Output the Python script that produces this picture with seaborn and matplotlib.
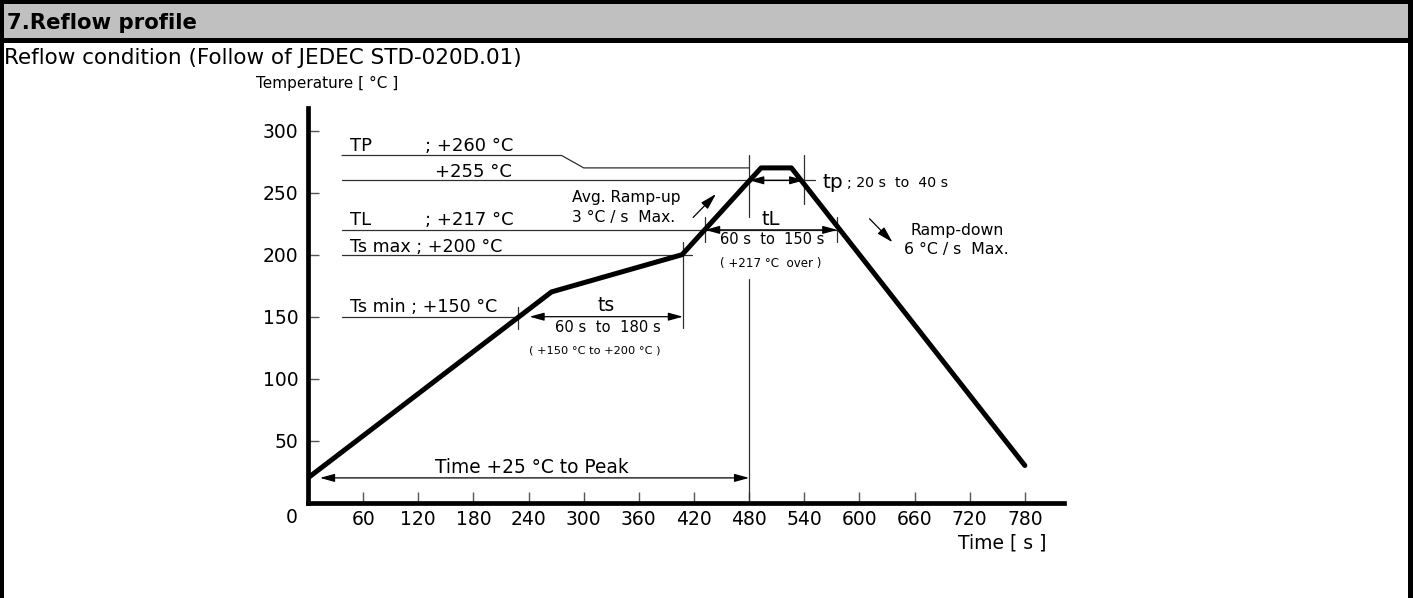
import numpy as np
import pandas as pd
import matplotlib
matplotlib.use("Agg")
import matplotlib.pyplot as plt
from matplotlib.patches import Rectangle
import seaborn as sns

# ---------------- data ----------------
profile_time = [0, 265, 407, 493, 526, 780]
profile_temp = [20, 170, 200, 270, 270, 30]

x_ticks = [60, 120, 180, 240, 300, 360, 420, 480, 540, 600, 660, 720, 780]
y_ticks = [50, 100, 150, 200, 250, 300]

# reference level lines
tp_line_time = [37, 276, 300, 480]
tp_line_temp = [280, 280, 270, 270]
lvl255 = (37, 552, 260)
lvl217 = (37, 576, 220)
lvl200 = (37, 418, 200)
lvl150 = (37, 229, 150)

# vertical markers (time, temp from, temp to)
verticals = [(229, 140, 158), (408, 141, 210), (432, 210, 230), (576, 210, 230),
             (480, 230, 280), (480, 0, 180), (540, 241, 280)]

# double arrows (time from, time to, temp)
spans = [(241, 408, 150), (432, 576, 220), (480, 540, 260), (13, 480, 20)]

# ramp arrows (time0, temp0, time1, temp1)
ramp_up = (419, 230, 444, 249)
ramp_down = (611, 229, 636, 210)

# ---------------- style ----------------
sns.set_theme(style="white")
plt.rcParams["font.family"] = ["DejaVu Sans"]
plt.rcParams["text.color"] = "black"
plt.rcParams["axes.labelcolor"] = "black"
plt.rcParams["xtick.color"] = "black"
plt.rcParams["ytick.color"] = "black"

W, H = 1413, 598
fig = plt.figure(figsize=(W / 100, H / 100), dpi=100)
fig.patch.set_facecolor("white")


def px_rect(x, y, w, h, color):
    fig.add_artist(Rectangle((x / W, 1 - (y + h) / H), w / W, h / H,
                             transform=fig.transFigure, facecolor=color,
                             edgecolor="none", zorder=0))


px_rect(0, 0, W, 38, "#c0c0c0")
px_rect(0, 0, W, 4, "black")
px_rect(0, 38, W, 5, "black")
px_rect(0, 0, 4, H, "black")
px_rect(W - 5, 0, 5, H, "black")

fig.text(7 / W, 1 - 23 / H, "7.Reflow profile", fontsize=15.3, fontweight="bold",
         ha="left", va="center", color="black")
fig.text(4 / W, 1 - 58 / H, "Reflow condition (Follow of JEDEC STD-020D.01)",
         fontsize=15.5, ha="left", va="center", color="black")
fig.text(327 / W, 1 - 83 / H, "Temperature [ °C ]", fontsize=11,
         ha="center", va="center", color="black")
fig.text(1002 / W, 1 - 543 / H, "Time [ s ]", fontsize=13.5,
         ha="center", va="center", color="black")

ax = fig.add_axes([308 / W, (H - 502.7) / H, (1064 - 308) / W, (502.7 - 108) / H])
ax.set_facecolor("none")

df = pd.DataFrame({"time": profile_time, "temp": profile_temp})
sns.lineplot(data=df, x="time", y="temp", ax=ax, color="black", lw=3.6,
             sort=False, estimator=None, zorder=5)

ax.set_xlim(0, 822.6)
ax.set_ylim(0, 318.3)
ax.set_xlabel("")
ax.set_ylabel("")
for s in ["top", "right"]:
    ax.spines[s].set_visible(False)
for s in ["left", "bottom"]:
    ax.spines[s].set_linewidth(3.4)
    ax.spines[s].set_color("black")
    ax.spines[s].set_zorder(6)
    ax.spines[s].set_capstyle("projecting")

ax.set_xticks(x_ticks)
ax.set_yticks(y_ticks)
ax.tick_params(axis="both", direction="in", length=8, width=1.0,
               color="#555555", labelsize=13.5, labelcolor="black",
               bottom=True, left=True)
ax.tick_params(axis="x", pad=5)
ax.tick_params(axis="y", pad=7)
ax.annotate("0", xy=(0, 0), xycoords="data", xytext=(-11.5, -10.5),
            textcoords="offset points", ha="center", va="center", fontsize=13.5)

thin = dict(color="#303030", lw=0.9, zorder=3)
ax.plot(tp_line_time, tp_line_temp, **thin)
for (a, b, t) in [lvl255, lvl217, lvl200, lvl150]:
    ax.plot([a, b], [t, t], **thin)
for (t, y0, y1) in verticals:
    ax.plot([t, t], [y0, y1], **thin)

for (a, b, t) in spans:
    ax.annotate("", xy=(b, t), xytext=(a, t),
                arrowprops=dict(arrowstyle="<|-|>,head_length=0.8,head_width=0.22",
                                color="black", lw=0.9, shrinkA=0, shrinkB=0,
                                mutation_scale=11), zorder=4)
for (a0, b0, a1, b1) in [ramp_up, ramp_down]:
    ax.annotate("", xy=(a1, b1), xytext=(a0, b0),
                arrowprops=dict(arrowstyle="-|>,head_length=0.9,head_width=0.25",
                                color="black", lw=0.9, shrinkA=0, shrinkB=0,
                                mutation_scale=11))

big = 13
ax.text(46, 287.5, "TP", fontsize=big, ha="left", va="center")
ax.text(127, 287.5, "; +260 °C", fontsize=big, ha="left", va="center")
ax.text(138, 267, "+255 °C", fontsize=big, ha="left", va="center")
ax.text(46, 228, "TL", fontsize=big, ha="left", va="center")
ax.text(127, 228, "; +217 °C", fontsize=big, ha="left", va="center")
ax.text(46, 206.5, "Ts max ; +200 °C", fontsize=12.6, ha="left", va="center")
ax.text(46, 158, "Ts min ; +150 °C", fontsize=12.6, ha="left", va="center")

ax.text(324, 159, "ts", fontsize=13.5, ha="center", va="center")
ax.text(326, 141, "60 s  to  180 s", fontsize=10.6, ha="center", va="center")
ax.text(312, 123, "( +150 °C to +200 °C )", fontsize=8.2, ha="center", va="center")

ax.text(287, 246, "Avg. Ramp-up", fontsize=11.2, ha="left", va="center")
ax.text(287, 229.6, "3 °C / s  Max.", fontsize=11.2, ha="left", va="center")

ax.text(504, 228, "tL", fontsize=14, ha="center", va="center")
ax.text(505, 212.6, "60 s  to  150 s", fontsize=10.5, ha="center", va="center")
ax.text(503, 192.5, "( +217 °C  over )", fontsize=8.6, ha="center", va="center")

ax.text(560, 258.5, "tp", fontsize=14.5, ha="left", va="center")
ax.text(586, 258, "; 20 s  to  40 s", fontsize=10.2, ha="left", va="center")

ax.text(706, 219.4, "Ramp-down", fontsize=11.3, ha="center", va="center")
ax.text(706, 203.8, "6 °C / s  Max.", fontsize=11.3, ha="center", va="center")

ax.text(244, 28, "Time +25 °C to Peak", fontsize=13.4, ha="center", va="center")

fig.savefig("out.png", dpi=100, facecolor="white")
